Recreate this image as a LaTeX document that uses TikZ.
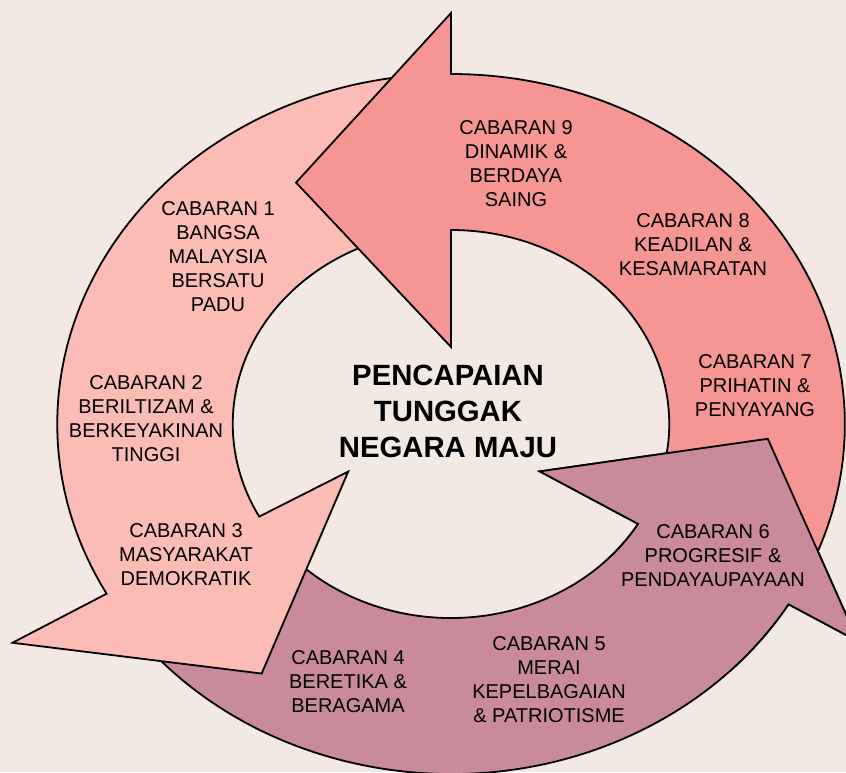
\documentclass[tikz,border=0pt]{standalone}
\usepackage{fontspec}
\setmainfont{Liberation Sans}
\usepackage{tikz}
\definecolor{cbbg}{RGB}{242,234,226}
\definecolor{cbpink}{RGB}{251,188,182}
\definecolor{cbred}{RGB}{245,150,148}
\definecolor{cbmauve}{RGB}{201,139,154}

\begin{document}
\begin{tikzpicture}[x=1pt, y=1pt,
    ring/.style={draw=black, line width=1.8pt},
    cabaran/.style={align=center, inner sep=0pt, font=\fontsize{20}{24}\selectfont},
    goaltext/.style={align=center, inner sep=0pt, font=\fontsize{29.3}{36}\selectfont\bfseries}]
  % Background
  \fill[cbbg] (0,0) rectangle (846,-772);
  \useasboundingbox (0,0) rectangle (846,-772);

  \begin{scope}[shift={(451,-424)}, xscale=1.125]
    % Bottom arrow (4 to 6)
    \draw[ring, fill=cbmauve] (213:194) -- (213:350) %
      arc[start angle=213, end angle=329, radius=350] -- (329:422) %
      -- (357:282) -- (329:92) -- (329:194) %
      arc[start angle=329, end angle=213, radius=194] -- cycle;

    % Left arrow (1 to 3)
    \draw[ring, fill=cbpink] (94:194) -- (94:350) %
      arc[start angle=94, end angle=209, radius=350] -- (209.3:447) %
      -- (236:301) -- (207.5:103) -- (208.5:194) %
      arc[start angle=208.5, end angle=94, radius=194] -- cycle;

    % Right arrow (7 to 9)
    \draw[ring, fill=cbred] (-27:194) -- (-27:350) %
      arc[start angle=-27, end angle=90, radius=350] -- (90:411) %
      -- (119.7:278) -- (90:77) -- (90:194) %
      arc[start angle=90, end angle=-27, radius=194] -- cycle;

    % Head of bottom arrow again, over the tail of the right arrow
    \begin{scope}
      \clip (0,0) -- (-45:700) -- (-15:700) -- (15:700) -- cycle;
      \draw[ring, fill=cbmauve] (213:194) -- (213:350) %
        arc[start angle=213, end angle=329, radius=350] -- (329:422) %
        -- (357:282) -- (329:92) -- (329:194) %
        arc[start angle=329, end angle=213, radius=194] -- cycle;
    \end{scope}
  \end{scope}

  % Labels
  \node[cabaran] (c1) at (218,-257) {CABARAN 1\\BANGSA\\MALAYSIA\\BERSATU\\PADU};
  \node[cabaran] (c2) at (146,-419) {CABARAN 2\\BERILTIZAM \&\\BERKEYAKINAN\\TINGGI};
  \node[cabaran] (c3) at (186,-555) {CABARAN 3\\MASYARAKAT\\DEMOKRATIK};
  \node[cabaran] (c4) at (348,-682) {CABARAN 4\\BERETIKA \&\\BERAGAMA};
  \node[cabaran] (c5) at (549,-680) {CABARAN 5\\MERAI\\KEPELBAGAIAN\\\& PATRIOTISME};
  \node[cabaran] (c6) at (713,-556) {CABARAN 6\\PROGRESIF \&\\PENDAYAUPAYAAN};
  \node[cabaran] (c7) at (755,-386) {CABARAN 7\\PRIHATIN \&\\PENYAYANG};
  \node[cabaran] (c8) at (693,-245) {CABARAN 8\\KEADILAN \&\\KESAMARATAN};
  \node[cabaran] (c9) at (516,-164) {CABARAN 9\\DINAMIK \&\\BERDAYA\\SAING};

  % Centre text
  \node[goaltext] (goal) at (448,-411) {PENCAPAIAN\\TUNGGAK\\NEGARA MAJU};
\end{tikzpicture}
\end{document}
